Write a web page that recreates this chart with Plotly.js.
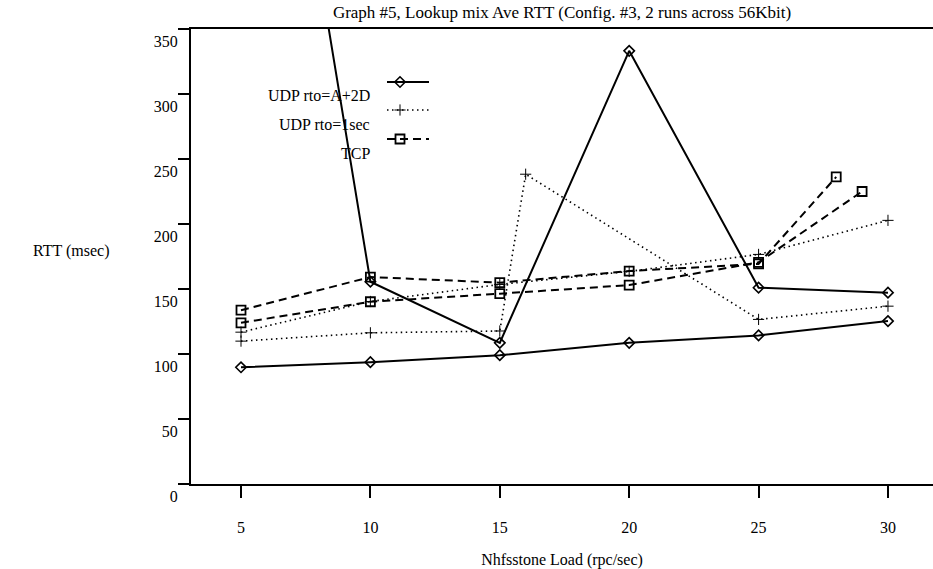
<!DOCTYPE html>
<html>
<head>
<meta charset="utf-8">
<script src="https://cdn.plot.ly/plotly-3.0.1.min.js"></script>
<style>html,body{margin:0;padding:0;background:#fff;}#chart{width:933px;height:569px;}</style>
</head>
<body>
<div id="chart"></div>
<script>
// ---- data ----
const udpA_x1 = [5, 10, 15, 20, 25, 30];
const udpA_y1 = [89.8, 93.7, 99.1, 108.6, 114.3, 125.3];
const udpA_x2 = [5, 10, 15, 20, 25, 30];
const udpA_y2 = [760, 155.6, 108.6, 333.2, 151.0, 147.2];

const udp1_x1 = [5, 10, 15, 20, 25, 30];
const udp1_y1 = [116.8, 140.4, 153.5, 163.5, 176.6, 202.8];
const udp1_x2 = [5, 10, 15, 16, 25, 30];
const udp1_y2 = [109.9, 116.3, 117.7, 238.3, 126.6, 136.8];

const tcp_x1 = [5, 10, 15, 20, 25, 28];
const tcp_y1 = [133.7, 159.2, 154.9, 163.8, 169.3, 236.2];
const tcp_x2 = [5, 10, 15, 20, 25, 29];
const tcp_y2 = [124.0, 140.2, 146.4, 153.0, 170.5, 225.0];

const xTicks = [5, 10, 15, 20, 25, 30];
const yTicks = [0, 50, 100, 150, 200, 250, 300, 350];
const seriesNames = ["UDP rto=A+2D", "UDP rto=1sec", "TCP"];

const titleText = "Graph #5, Lookup mix Ave RTT (Config. #3, 2 runs across 56Kbit)";
const xTitle = "Nhfsstone Load (rpc/sec)";
const yTitle = "RTT (msec)";

// ---- styles ----
const FONT = '"Liberation Serif", serif';
const FS = 16;
const styles = [
  {line: {color: "#000", width: 2, dash: "solid"}, marker: {symbol: "diamond-open", size: 8, color: "#000", line: {width: 1.6, color: "#000"}}},
  {line: {color: "#000", width: 1.6, dash: "1.5px,3.5px"}, marker: {symbol: "cross-thin-open", size: 8, color: "#000", line: {width: 1, color: "#000"}}},
  {line: {color: "#000", width: 2, dash: "8px,5px"}, marker: {symbol: "square-open", size: 9, color: "#000", line: {width: 1.8, color: "#000"}}}
];

function tr(x, y, s) {
  return {x: x, y: y, type: "scatter", mode: "lines+markers", line: styles[s].line, marker: styles[s].marker, showlegend: false, hoverinfo: "skip"};
}

const traces = [
  tr(udpA_x1, udpA_y1, 0), tr(udpA_x2, udpA_y2, 0),
  tr(udp1_x1, udp1_y1, 1), tr(udp1_x2, udp1_y2, 1),
  tr(tcp_x1, tcp_y1, 2), tr(tcp_x2, tcp_y2, 2)
];

// custom legend (text left, glyph right) on a hidden pixel-unit overlay axis
const legRowY = [82, 110, 139];
const legTextY = [95, 124, 153];
seriesNames.forEach((n, i) => {
  traces.push({x: [387, 429], y: [legRowY[i], legRowY[i]], xaxis: "x2", yaxis: "y2", type: "scatter", mode: "lines",
    line: styles[i].line, showlegend: false, hoverinfo: "skip"});
  traces.push({x: [400], y: [legRowY[i]], xaxis: "x2", yaxis: "y2", type: "scatter", mode: "markers",
    marker: styles[i].marker, showlegend: false, hoverinfo: "skip"});
});

const annotations = seriesNames.map((n, i) => ({
  text: n, xref: "x2", yref: "y2", x: 372, y: legTextY[i], xanchor: "right", yanchor: "middle",
  showarrow: false, font: {family: FONT, size: FS, color: "#000"}
}));
annotations.push({text: yTitle, xref: "paper", yref: "y", x: -0.2155, y: 179, xanchor: "left", yanchor: "middle",
  showarrow: false, font: {family: FONT, size: FS, color: "#000"}});

const layout = {
  width: 933, height: 569,
  margin: {l: 191, r: 0, t: 29, b: 85},
  paper_bgcolor: "#fff", plot_bgcolor: "#fff",
  font: {family: FONT, size: FS, color: "#000"},
  title: {text: titleText, x: 0.5, xref: "paper", y: 0.979, yref: "container", xanchor: "center", yanchor: "middle",
    font: {family: FONT, size: 17, color: "#000"}},
  xaxis: {range: [3.068, 31.74], tickvals: xTicks, ticktext: xTicks.map(String), ticks: "outside", ticklen: 12, tickwidth: 2,
    tickcolor: "#000", showline: true, linecolor: "#000", linewidth: 2, mirror: true, showgrid: false, zeroline: false,
    ticklabelstandoff: 16, tickfont: {family: FONT, size: FS},
    title: {text: xTitle, font: {family: FONT, size: FS}, standoff: 19}},
  yaxis: {range: [0, 350], tickvals: yTicks, ticktext: yTicks.map(String), ticks: "outside", ticklen: 11, tickwidth: 2,
    tickcolor: "#000", showline: true, linecolor: "#000", linewidth: 2, mirror: false, showgrid: false, zeroline: false,
    ticklabelposition: "outside bottom", ticklabelstandoff: 8, tickfont: {family: FONT, size: FS}},
  xaxis2: {range: [191, 933], overlaying: "x", anchor: "y2", visible: false, fixedrange: true},
  yaxis2: {range: [484, 29], overlaying: "y", anchor: "x2", visible: false, fixedrange: true},
  annotations: annotations,
  showlegend: false
};

Plotly.newPlot("chart", traces, layout, {displayModeBar: false, staticPlot: true});
</script>
</body>
</html>
